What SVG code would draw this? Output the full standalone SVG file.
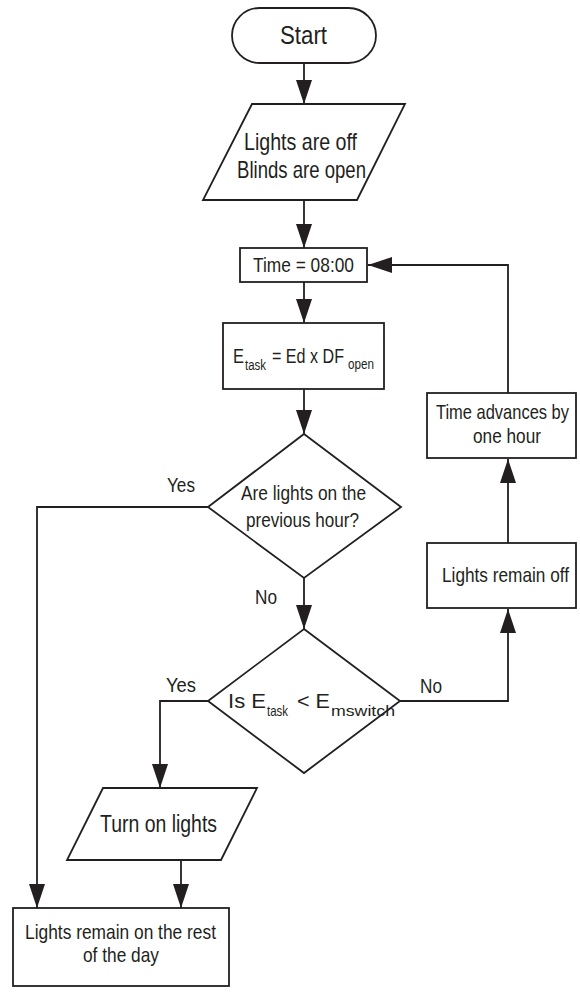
<svg xmlns="http://www.w3.org/2000/svg" width="580" height="996" viewBox="0 0 580 996">
<style>
.s{fill:#fff;stroke:#231f20;stroke-width:1.8}
.c{fill:none;stroke:#231f20;stroke-width:1.8}
text{font-family:"Liberation Sans Narrow","Liberation Sans",Arial,sans-serif;fill:#231f20}
</style>
<defs>
<marker id="ah" markerUnits="userSpaceOnUse" markerWidth="24" markerHeight="16" refX="24" refY="8" orient="auto">
<path d="M0,0 L24,8 L0,16 z" fill="#231f20"/>
</marker>
</defs>
<rect width="580" height="996" fill="#fff"/>
<g id="connectors">
<line class="c" x1="304" y1="63" x2="304" y2="104" marker-end="url(#ah)"/>
<line class="c" x1="304" y1="200" x2="304" y2="248" marker-end="url(#ah)"/>
<line class="c" x1="304" y1="282" x2="304" y2="323" marker-end="url(#ah)"/>
<line class="c" x1="304" y1="389" x2="304" y2="434" marker-end="url(#ah)"/>
<line class="c" x1="304" y1="578" x2="304" y2="629" marker-end="url(#ah)"/>
<polyline class="c" points="208,507 37,507 37,908" marker-end="url(#ah)"/>
<polyline class="c" points="208,701 160,701 160,788" marker-end="url(#ah)"/>
<line class="c" x1="181" y1="860" x2="181" y2="908" marker-end="url(#ah)"/>
<polyline class="c" points="400,701 508,701 508,609" marker-end="url(#ah)"/>
<line class="c" x1="508" y1="543" x2="508" y2="459" marker-end="url(#ah)"/>
<polyline class="c" points="508,393 508,265 368,265" marker-end="url(#ah)"/>
<text x="167" y="492" font-size="20" textLength="28" lengthAdjust="spacingAndGlyphs">Yes</text>
<text x="255" y="604" font-size="20" textLength="22" lengthAdjust="spacingAndGlyphs">No</text>
<text x="166" y="692" font-size="20" textLength="30" lengthAdjust="spacingAndGlyphs">Yes</text>
<text x="420" y="693" font-size="20" textLength="22" lengthAdjust="spacingAndGlyphs">No</text>
</g>
<g id="start">
<rect class="s" x="232" y="8" width="144" height="55" rx="27.5"/>
<text x="280" y="44" font-size="26" textLength="47" lengthAdjust="spacingAndGlyphs">Start</text>
</g>
<g id="initial">
<polygon class="s" points="252,104 405,104 357,200 203,200"/>
<text x="244" y="150" font-size="24" textLength="113" lengthAdjust="spacingAndGlyphs">Lights are off</text>
<text x="237" y="178" font-size="24" textLength="129" lengthAdjust="spacingAndGlyphs">Blinds are open</text>
</g>
<g id="time">
<rect class="s" x="240" y="248" width="127" height="34"/>
<text x="253" y="272" font-size="21" textLength="101" lengthAdjust="spacingAndGlyphs">Time = 08:00</text>
</g>
<g id="etask">
<rect class="s" x="223" y="323" width="161" height="66"/>
<text x="233" y="363" font-size="21" textLength="11" lengthAdjust="spacingAndGlyphs">E</text>
<text x="245" y="370" font-size="14" textLength="21" lengthAdjust="spacingAndGlyphs">task</text>
<text x="272" y="363" font-size="21" textLength="72" lengthAdjust="spacingAndGlyphs">= Ed x DF</text>
<text x="348" y="369" font-size="15" textLength="26" lengthAdjust="spacingAndGlyphs">open</text>
</g>
<g id="decision1">
<polygon class="s" points="304,434 401,507 304,578 208,507"/>
<text x="241" y="500" font-size="20" textLength="125" lengthAdjust="spacingAndGlyphs">Are lights on the</text>
<text x="246" y="527" font-size="20" textLength="113" lengthAdjust="spacingAndGlyphs">previous hour?</text>
</g>
<g id="decision2">
<polygon class="s" points="304,629 400,701 304,773 208,701"/>
<text x="228" y="708" font-size="21" textLength="38" lengthAdjust="spacingAndGlyphs">Is E</text>
<text x="267" y="716" font-size="15" textLength="21" lengthAdjust="spacingAndGlyphs">task</text>
<text x="297" y="708" font-size="21" textLength="33" lengthAdjust="spacingAndGlyphs">&lt; E</text>
<text x="331" y="716" font-size="15" textLength="64" lengthAdjust="spacingAndGlyphs">mswitch</text>
</g>
<g id="turnon">
<polygon class="s" points="103,788 257,788 221,860 67,860"/>
<text x="100" y="832" font-size="23" textLength="117" lengthAdjust="spacingAndGlyphs">Turn on lights</text>
</g>
<g id="remainon">
<rect class="s" x="13" y="908" width="216" height="78"/>
<text x="25" y="939" font-size="21" textLength="191" lengthAdjust="spacingAndGlyphs">Lights remain on the rest</text>
<text x="83" y="962" font-size="21" textLength="76" lengthAdjust="spacingAndGlyphs">of the day</text>
</g>
<g id="remainoff">
<rect class="s" x="427" y="543" width="149" height="65"/>
<text x="442" y="582" font-size="21" textLength="127" lengthAdjust="spacingAndGlyphs">Lights remain off</text>
</g>
<g id="advance">
<rect class="s" x="427" y="393" width="149" height="65"/>
<text x="436" y="419" font-size="21" textLength="133" lengthAdjust="spacingAndGlyphs">Time advances by</text>
<text x="473" y="443" font-size="21" textLength="68" lengthAdjust="spacingAndGlyphs">one hour</text>
</g>
</svg>
